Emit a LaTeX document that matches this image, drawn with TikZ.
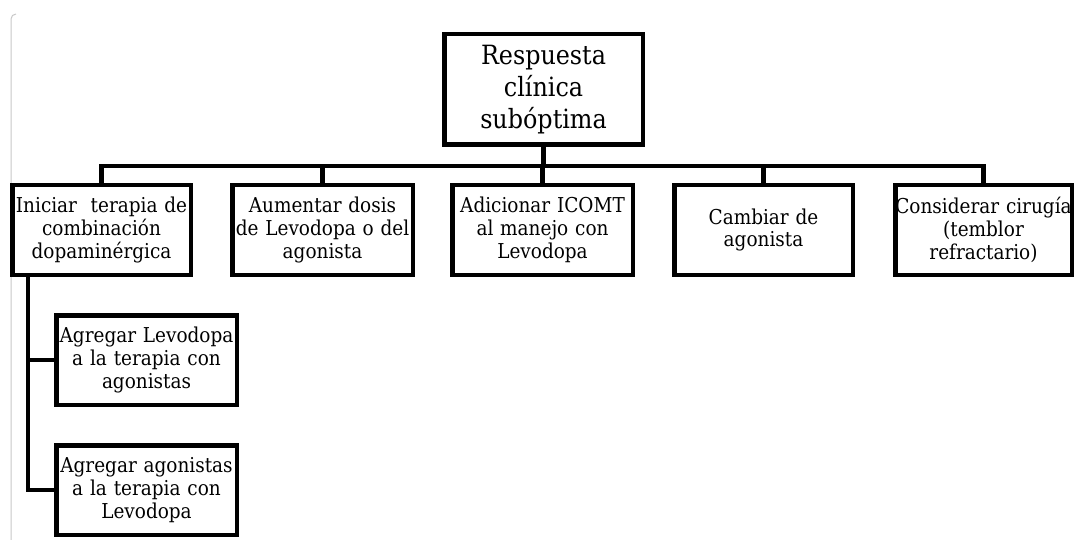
\documentclass[tikz,border=0pt]{standalone}
\usepackage{fontspec}
\setmainfont{DejaVu Serif Condensed}
\begin{document}
\begin{tikzpicture}[x=1pt,y=1pt,
  box/.style={draw=black,line width=4.5pt,fill=white,rectangle,inner xsep=0pt,inner ysep=0pt,
    align=center,minimum height=89.5pt,text width=#1,minimum width=#1},
  rowtxt/.style={font=\fontsize{20.5}{22.8}\selectfont},
  toptxt/.style={font=\fontsize{26.5}{31.7}\selectfont},
  conn/.style={draw=black,line width=4.5pt,line cap=rect},
  pageedge/.style={draw=black!22,line width=1pt}]
\useasboundingbox (0,0) rectangle (1076,-540);
\draw[pageedge] (11,-540) -- (11,-19) arc[start angle=180,end angle=90,radius=5];
% top
\node[box=198.5pt,toptxt,minimum height=110.5pt] (top) at (543.5,-89.5) {Respuesta\\clínica\\subóptima};
% row
\node[box=178.5pt,rowtxt] (b1) at (101.5,-230) {Iniciar\ \ terapia de\\combinación\\dopaminérgica};
\node[box=180.5pt,rowtxt] (b2) at (322.5,-230) {Aumentar dosis\\de Levodopa o del\\agonista};
\node[box=180.5pt,rowtxt] (b3) at (542.5,-230) {Adicionar ICOMT\\al manejo con\\Levodopa};
\node[box=178.5pt,rowtxt] (b4) at (763.5,-230) {Cambiar de\\agonista};
\node[box=176.5pt,rowtxt] (b5) at (983.5,-230) {Considerar cirugía\\(temblor\\refractario)};
% sub
\node[box=180.5pt,rowtxt] (s1) at (146.5,-360) {Agregar Levodopa\\a la terapia con\\agonistas};
\node[box=180.5pt,rowtxt] (s2) at (146.5,-490) {Agregar agonistas\\a la terapia con\\Levodopa};
% connectors
\coordinate (bus) at (543.5,-166);
\coordinate (spine) at (28,-277);
\draw[conn] (top.south) -- (bus);
\draw[conn] (b1.north) |- (bus) -| (b5.north);
\draw[conn] (b2.north) -- (b2.north |- bus);
\draw[conn] (b3.north) -- (b3.north |- bus);
\draw[conn] (b4.north) -- (b4.north |- bus);
\draw[conn] (spine) |- (s2.west);
\draw[conn] (spine |- s1.west) -- (s1.west);
\end{tikzpicture}
\end{document}
